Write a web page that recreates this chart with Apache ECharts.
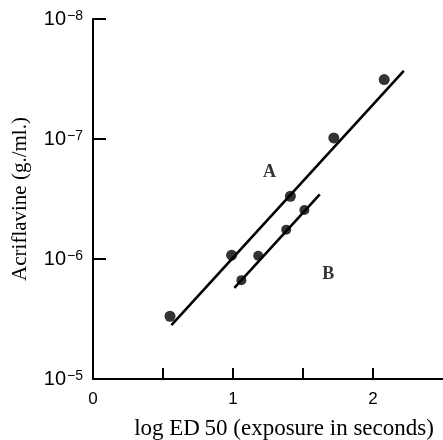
<!DOCTYPE html>
<html><head><meta charset="utf-8">
<script src="https://cdn.jsdelivr.net/npm/echarts@6/dist/echarts.min.js"></script>
<style>html,body{margin:0;padding:0;background:#fff}#c{width:443px;height:440px}</style>
</head><body><div id="c"></div>
<script>
// Data
var pointsA_x = [0.55, 0.99, 1.41, 1.72, 2.08];
var pointsA_y = [3.0e-6, 9.3e-7, 3.0e-7, 9.8e-8, 3.2e-8];
var pointsB_x = [1.06, 1.18, 1.38, 1.51];
var pointsB_y = [1.5e-6, 9.4e-7, 5.7e-7, 3.9e-7];
var lineA_x = [0.56, 2.22];
var lineA_y = [3.55e-6, 2.7e-8];
var lineB_x = [1.01, 1.62];
var lineB_y = [1.74e-6, 2.9e-7];
var curveLabels = ['A', 'B'];
var curveLabel_x = [1.26, 1.68];
var curveLabel_y = [1.9e-7, 1.33e-6];
var xTickValues = [0, 0.5, 1, 1.5, 2];
var xLabelValues = [0, 1, 2];

function zip(a, b) { return a.map(function (v, i) { return [v, b[i]]; }); }
var sup = {'-': '\u2212', '0':'0','1':'1','2':'2','3':'3','4':'4','5':'5','6':'6','7':'7','8':'8','9':'9'};

var chart = echarts.init(document.getElementById('c'));
chart.setOption({
  animation: false,
  backgroundColor: '#fff',
  grid: {left: 93, right: 0, top: 19, bottom: 61, containLabel: false, outerBoundsMode: 'none'},
  xAxis: {
    type: 'value', min: 0, max: 2.5, interval: 0.5,
    name: 'log ED\u200950 (exposure in seconds)',
    nameLocation: 'middle', nameGap: 38,
    nameTextStyle: {fontFamily: 'Liberation Serif', fontSize: 23, color: '#000', padding: [0,0,0,32]},
    axisLine: {lineStyle: {color: '#000', width: 2}},
    axisTick: {inside: true, length: 11, customValues: xTickValues, lineStyle: {color: '#000', width: 2}},
    splitLine: {show: false},
    axisLabel: {
      margin: 12, fontFamily: 'Liberation Sans', fontSize: 17, color: '#000',
      customValues: xLabelValues,
      formatter: function (v) { return String(v); }
    }
  },
  yAxis: {
    type: 'log', logBase: 10, min: 1e-8, max: 1e-5, inverse: true,
    name: 'Acriflavine (g./ml.)',
    nameLocation: 'middle', nameGap: 62,
    nameTextStyle: {fontFamily: 'Liberation Serif', fontSize: 21, color: '#000'},
    axisLine: {lineStyle: {color: '#000', width: 2}},
    axisTick: {inside: true, length: 13, lineStyle: {color: '#000', width: 2}},
    minorTick: {show: false},
    splitLine: {show: false},
    axisLabel: {
      margin: 10, color: '#000',
      formatter: function (v) {
        var e = Math.round(Math.log10(v));
        var s = String(e).split('').map(function (c) { return sup[c]; }).join('');
        return '{b|10}{s|' + s + '}';
      },
      rich: {
        b: {fontFamily: 'Liberation Sans', fontSize: 20, color: '#000'},
        s: {fontFamily: 'Liberation Sans', fontSize: 14, color: '#000', padding: [0, 0, 5, 1]}
      }
    }
  },
  series: [
    {type: 'line', data: zip(lineA_x, lineA_y), symbol: 'none', lineStyle: {color: '#000', width: 2.6}},
    {type: 'line', data: zip(lineB_x, lineB_y), symbol: 'none', lineStyle: {color: '#000', width: 2.6}},
    {type: 'scatter', data: zip(pointsA_x, pointsA_y), symbolSize: 11, itemStyle: {color: '#000'}},
    {type: 'scatter', data: zip(pointsB_x, pointsB_y), symbolSize: 10, itemStyle: {color: '#000'}},
    {type: 'scatter', symbolSize: 0,
      data: curveLabels.map(function (t, i) { return {value: [curveLabel_x[i], curveLabel_y[i]], name: t}; }),
      label: {show: true, position: 'inside', formatter: '{b}', fontFamily: 'Liberation Serif', fontWeight: 'bold', fontSize: 18, color: '#000'}
    }
  ]
});
</script></body></html>
